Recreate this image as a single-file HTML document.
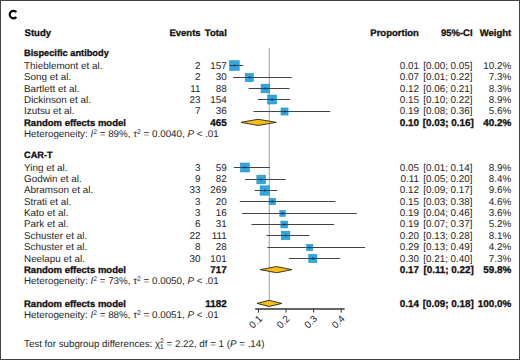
<!DOCTYPE html>
<html><head><meta charset="utf-8"><style>
html,body{margin:0;padding:0;background:#fff;}
body{width:520px;height:360px;overflow:hidden;position:relative;}
svg{position:absolute;left:0;top:0;font-family:"Liberation Sans",sans-serif;text-rendering:geometricPrecision;}
.ci{stroke:#444;stroke-width:1;}
.ci2{stroke:#0f4470;stroke-width:1;}
.sq{fill:#31a8dc;stroke:#1d8fc4;stroke-width:0.6;}
.pt{fill:#0b2f55;}
.dm{fill:#f6bd12;stroke:#2a2620;stroke-width:0.9;stroke-linejoin:miter;}
.frame{position:absolute;left:0;top:0;width:518px;height:358px;border:1px solid #444;}
</style></head><body>
<svg width="520" height="360" viewBox="0 0 520 360">
<line x1="269.3" y1="48" x2="269.3" y2="300.5" stroke="#a8a8a8" stroke-width="1.1"/>
<line x1="231.34" y1="65.50" x2="243.42" y2="65.50" class="ci"/>
<rect x="229.64" y="60.71" width="9.58" height="9.58" class="sq"/>
<line x1="229.64" y1="65.50" x2="239.22" y2="65.50" class="ci2"/>
<circle cx="234.43" cy="65.50" r="1.05" class="pt"/>
<line x1="233.19" y1="77.50" x2="291.78" y2="77.50" class="ci"/>
<rect x="245.27" y="73.45" width="8.11" height="8.11" class="sq"/>
<line x1="245.27" y1="77.50" x2="253.37" y2="77.50" class="ci2"/>
<circle cx="249.32" cy="77.50" r="1.05" class="pt"/>
<line x1="248.60" y1="88.50" x2="289.57" y2="88.50" class="ci"/>
<rect x="261.07" y="84.18" width="8.64" height="8.64" class="sq"/>
<line x1="261.07" y1="88.50" x2="269.71" y2="88.50" class="ci2"/>
<circle cx="265.39" cy="88.50" r="1.05" class="pt"/>
<line x1="257.70" y1="99.50" x2="290.37" y2="99.50" class="ci"/>
<rect x="267.64" y="95.03" width="8.95" height="8.95" class="sq"/>
<line x1="267.64" y1="99.50" x2="276.59" y2="99.50" class="ci2"/>
<circle cx="272.12" cy="99.50" r="1.05" class="pt"/>
<line x1="253.51" y1="111.50" x2="330.24" y2="111.50" class="ci"/>
<rect x="280.98" y="107.95" width="7.10" height="7.10" class="sq"/>
<line x1="280.98" y1="111.50" x2="288.08" y2="111.50" class="ci2"/>
<circle cx="284.53" cy="111.50" r="1.05" class="pt"/>
<polygon points="240.99,122.35 258.09,119.25 276.31,122.35 258.09,125.45" class="dm"/>
<line x1="233.85" y1="167.50" x2="269.94" y2="167.50" class="ci"/>
<rect x="240.46" y="163.03" width="8.95" height="8.95" class="sq"/>
<line x1="240.46" y1="167.50" x2="249.41" y2="167.50" class="ci2"/>
<circle cx="244.94" cy="167.50" r="1.05" class="pt"/>
<line x1="245.10" y1="179.50" x2="285.57" y2="179.50" class="ci"/>
<rect x="256.85" y="175.15" width="8.69" height="8.69" class="sq"/>
<line x1="256.85" y1="179.50" x2="265.55" y2="179.50" class="ci2"/>
<circle cx="261.20" cy="179.50" r="1.05" class="pt"/>
<line x1="254.64" y1="190.50" x2="277.25" y2="190.50" class="ci"/>
<rect x="260.11" y="185.85" width="9.30" height="9.30" class="sq"/>
<line x1="260.11" y1="190.50" x2="269.41" y2="190.50" class="ci2"/>
<circle cx="264.76" cy="190.50" r="1.05" class="pt"/>
<line x1="239.78" y1="201.50" x2="335.39" y2="201.50" class="ci"/>
<rect x="269.07" y="198.28" width="6.43" height="6.43" class="sq"/>
<line x1="269.07" y1="201.50" x2="275.50" y2="201.50" class="ci2"/>
<circle cx="272.29" cy="201.50" r="1.05" class="pt"/>
<line x1="242.10" y1="213.50" x2="356.79" y2="213.50" class="ci"/>
<rect x="279.78" y="210.65" width="5.69" height="5.69" class="sq"/>
<line x1="279.78" y1="213.50" x2="285.47" y2="213.50" class="ci2"/>
<circle cx="282.62" cy="213.50" r="1.05" class="pt"/>
<line x1="251.47" y1="224.50" x2="334.23" y2="224.50" class="ci"/>
<rect x="280.86" y="221.08" width="6.84" height="6.84" class="sq"/>
<line x1="280.86" y1="224.50" x2="287.70" y2="224.50" class="ci2"/>
<circle cx="284.28" cy="224.50" r="1.05" class="pt"/>
<line x1="266.39" y1="235.50" x2="309.39" y2="235.50" class="ci"/>
<rect x="281.30" y="231.23" width="8.54" height="8.54" class="sq"/>
<line x1="281.30" y1="235.50" x2="289.84" y2="235.50" class="ci2"/>
<circle cx="285.57" cy="235.50" r="1.05" class="pt"/>
<line x1="267.38" y1="247.50" x2="365.11" y2="247.50" class="ci"/>
<rect x="306.62" y="244.43" width="6.15" height="6.15" class="sq"/>
<line x1="306.62" y1="247.50" x2="312.77" y2="247.50" class="ci2"/>
<circle cx="309.70" cy="247.50" r="1.05" class="pt"/>
<line x1="288.88" y1="258.50" x2="340.13" y2="258.50" class="ci"/>
<rect x="308.76" y="254.45" width="8.11" height="8.11" class="sq"/>
<line x1="308.76" y1="258.50" x2="316.87" y2="258.50" class="ci2"/>
<circle cx="312.81" cy="258.50" r="1.05" class="pt"/>
<polygon points="260.29,269.65 276.59,266.55 292.00,269.65 276.59,272.75" class="dm"/>
<polygon points="256.98,303.40 269.11,300.30 281.88,303.40 269.11,306.50" class="dm"/>
<line x1="255.2" y1="309.0" x2="344.6" y2="309.0" stroke="#333" stroke-width="1.4"/>
<line x1="258.50" y1="309.0" x2="258.50" y2="312.5" stroke="#333" stroke-width="1"/>
<text x="0" y="0" text-anchor="end" font-size="9.9" fill="#262626" transform="translate(262.80,319.3) rotate(-45)">0.1</text>
<line x1="286.07" y1="309.0" x2="286.07" y2="312.5" stroke="#333" stroke-width="1"/>
<text x="0" y="0" text-anchor="end" font-size="9.9" fill="#262626" transform="translate(290.37,319.3) rotate(-45)">0.2</text>
<line x1="313.64" y1="309.0" x2="313.64" y2="312.5" stroke="#333" stroke-width="1"/>
<text x="0" y="0" text-anchor="end" font-size="9.9" fill="#262626" transform="translate(317.94,319.3) rotate(-45)">0.3</text>
<line x1="341.21" y1="309.0" x2="341.21" y2="312.5" stroke="#333" stroke-width="1"/>
<text x="0" y="0" text-anchor="end" font-size="9.9" fill="#262626" transform="translate(345.51,319.3) rotate(-45)">0.4</text>
<path d="M16.32,12.19 A3.75,3.75 0 1 0 16.32,17.01" fill="none" stroke="#000" stroke-width="2.1"/>
<text x="24.60" y="35.65" text-anchor="start" font-size="9.5" fill="#111" stroke="#111" stroke-width="0.3" font-weight="bold">Study</text>
<text x="200.60" y="35.65" text-anchor="end" font-size="9.5" fill="#111" stroke="#111" stroke-width="0.3" font-weight="bold">Events</text>
<text x="226.80" y="35.65" text-anchor="end" font-size="9.5" fill="#111" stroke="#111" stroke-width="0.3" font-weight="bold">Total</text>
<text x="418.90" y="35.65" text-anchor="end" font-size="9.5" fill="#111" stroke="#111" stroke-width="0.3" font-weight="bold">Proportion</text>
<text x="472.60" y="35.65" text-anchor="end" font-size="9.5" fill="#111" stroke="#111" stroke-width="0.3" font-weight="bold">95%-CI</text>
<text x="511.20" y="35.65" text-anchor="end" font-size="9.5" fill="#111" stroke="#111" stroke-width="0.3" font-weight="bold">Weight</text>
<text x="24.00" y="56.10" text-anchor="start" font-size="9.25" fill="#111" stroke="#111" stroke-width="0.3" font-weight="bold">Bispecific antibody</text>
<text x="24.00" y="68.80" text-anchor="start" font-size="9.9" fill="#262626" stroke="#262626" stroke-width="0.0">Thieblemont et al.</text>
<text x="200.60" y="68.80" text-anchor="end" font-size="9.9" fill="#262626" stroke="#262626" stroke-width="0.0">2</text>
<text x="226.80" y="68.80" text-anchor="end" font-size="9.9" fill="#262626" stroke="#262626" stroke-width="0.0">157</text>
<text x="418.90" y="68.80" text-anchor="end" font-size="9.9" fill="#262626" stroke="#262626" stroke-width="0.0">0.01</text>
<text x="472.60" y="68.80" text-anchor="end" font-size="9.9" fill="#262626" stroke="#262626" stroke-width="0.0">[0.00; 0.05]</text>
<text x="511.20" y="68.80" text-anchor="end" font-size="9.9" fill="#262626" stroke="#262626" stroke-width="0.0">10.2%</text>
<text x="24.00" y="80.15" text-anchor="start" font-size="9.9" fill="#262626" stroke="#262626" stroke-width="0.0">Song et al.</text>
<text x="200.60" y="80.15" text-anchor="end" font-size="9.9" fill="#262626" stroke="#262626" stroke-width="0.0">2</text>
<text x="226.80" y="80.15" text-anchor="end" font-size="9.9" fill="#262626" stroke="#262626" stroke-width="0.0">30</text>
<text x="418.90" y="80.15" text-anchor="end" font-size="9.9" fill="#262626" stroke="#262626" stroke-width="0.0">0.07</text>
<text x="472.60" y="80.15" text-anchor="end" font-size="9.9" fill="#262626" stroke="#262626" stroke-width="0.0">[0.01; 0.22]</text>
<text x="511.20" y="80.15" text-anchor="end" font-size="9.9" fill="#262626" stroke="#262626" stroke-width="0.0">7.3%</text>
<text x="24.00" y="91.50" text-anchor="start" font-size="9.9" fill="#262626" stroke="#262626" stroke-width="0.0">Bartlett et al.</text>
<text x="200.60" y="91.50" text-anchor="end" font-size="9.9" fill="#262626" stroke="#262626" stroke-width="0.0">11</text>
<text x="226.80" y="91.50" text-anchor="end" font-size="9.9" fill="#262626" stroke="#262626" stroke-width="0.0">88</text>
<text x="418.90" y="91.50" text-anchor="end" font-size="9.9" fill="#262626" stroke="#262626" stroke-width="0.0">0.12</text>
<text x="472.60" y="91.50" text-anchor="end" font-size="9.9" fill="#262626" stroke="#262626" stroke-width="0.0">[0.06; 0.21]</text>
<text x="511.20" y="91.50" text-anchor="end" font-size="9.9" fill="#262626" stroke="#262626" stroke-width="0.0">8.3%</text>
<text x="24.00" y="102.85" text-anchor="start" font-size="9.9" fill="#262626" stroke="#262626" stroke-width="0.0">Dickinson et al.</text>
<text x="200.60" y="102.85" text-anchor="end" font-size="9.9" fill="#262626" stroke="#262626" stroke-width="0.0">23</text>
<text x="226.80" y="102.85" text-anchor="end" font-size="9.9" fill="#262626" stroke="#262626" stroke-width="0.0">154</text>
<text x="418.90" y="102.85" text-anchor="end" font-size="9.9" fill="#262626" stroke="#262626" stroke-width="0.0">0.15</text>
<text x="472.60" y="102.85" text-anchor="end" font-size="9.9" fill="#262626" stroke="#262626" stroke-width="0.0">[0.10; 0.22]</text>
<text x="511.20" y="102.85" text-anchor="end" font-size="9.9" fill="#262626" stroke="#262626" stroke-width="0.0">8.9%</text>
<text x="24.00" y="114.20" text-anchor="start" font-size="9.9" fill="#262626" stroke="#262626" stroke-width="0.0">Izutsu et al.</text>
<text x="200.60" y="114.20" text-anchor="end" font-size="9.9" fill="#262626" stroke="#262626" stroke-width="0.0">7</text>
<text x="226.80" y="114.20" text-anchor="end" font-size="9.9" fill="#262626" stroke="#262626" stroke-width="0.0">36</text>
<text x="418.90" y="114.20" text-anchor="end" font-size="9.9" fill="#262626" stroke="#262626" stroke-width="0.0">0.19</text>
<text x="472.60" y="114.20" text-anchor="end" font-size="9.9" fill="#262626" stroke="#262626" stroke-width="0.0">[0.08; 0.36]</text>
<text x="511.20" y="114.20" text-anchor="end" font-size="9.9" fill="#262626" stroke="#262626" stroke-width="0.0">5.6%</text>
<text x="24.00" y="125.55" text-anchor="start" font-size="9.5" fill="#111" stroke="#111" stroke-width="0.3" font-weight="bold">Random effects model</text>
<text x="226.80" y="125.55" text-anchor="end" font-size="9.9" fill="#111" stroke="#111" stroke-width="0.3" font-weight="bold">465</text>
<text x="418.90" y="125.55" text-anchor="end" font-size="9.9" fill="#111" stroke="#111" stroke-width="0.3" font-weight="bold">0.10</text>
<text x="473.90" y="125.55" text-anchor="end" font-size="9.9" fill="#111" stroke="#111" stroke-width="0.3" font-weight="bold">[0.03; 0.16]</text>
<text x="511.20" y="125.55" text-anchor="end" font-size="9.9" fill="#111" stroke="#111" stroke-width="0.3" font-weight="bold">40.2%</text>
<text x="24.00" y="136.90" text-anchor="start" font-size="9.8" fill="#262626" stroke="#262626" stroke-width="0.0">Heterogeneity: <tspan font-style="italic">I</tspan><tspan dy="-3.2" font-size="6.8">2</tspan><tspan dy="3.2"> = 89%, τ</tspan><tspan dy="-3.2" font-size="6.8">2</tspan><tspan dy="3.2"> = 0.0040, </tspan><tspan font-style="italic">P</tspan> &lt; .01</text>
<text x="24.00" y="157.60" text-anchor="start" font-size="9.2" fill="#111" stroke="#111" stroke-width="0.3" font-weight="bold">CAR-T</text>
<text x="24.00" y="170.70" text-anchor="start" font-size="9.9" fill="#262626" stroke="#262626" stroke-width="0.0">Ying et al.</text>
<text x="200.60" y="170.70" text-anchor="end" font-size="9.9" fill="#262626" stroke="#262626" stroke-width="0.0">3</text>
<text x="226.80" y="170.70" text-anchor="end" font-size="9.9" fill="#262626" stroke="#262626" stroke-width="0.0">59</text>
<text x="418.90" y="170.70" text-anchor="end" font-size="9.9" fill="#262626" stroke="#262626" stroke-width="0.0">0.05</text>
<text x="472.60" y="170.70" text-anchor="end" font-size="9.9" fill="#262626" stroke="#262626" stroke-width="0.0">[0.01; 0.14]</text>
<text x="511.20" y="170.70" text-anchor="end" font-size="9.9" fill="#262626" stroke="#262626" stroke-width="0.0">8.9%</text>
<text x="24.00" y="182.05" text-anchor="start" font-size="9.9" fill="#262626" stroke="#262626" stroke-width="0.0">Godwin et al.</text>
<text x="200.60" y="182.05" text-anchor="end" font-size="9.9" fill="#262626" stroke="#262626" stroke-width="0.0">9</text>
<text x="226.80" y="182.05" text-anchor="end" font-size="9.9" fill="#262626" stroke="#262626" stroke-width="0.0">82</text>
<text x="418.90" y="182.05" text-anchor="end" font-size="9.9" fill="#262626" stroke="#262626" stroke-width="0.0">0.11</text>
<text x="472.60" y="182.05" text-anchor="end" font-size="9.9" fill="#262626" stroke="#262626" stroke-width="0.0">[0.05; 0.20]</text>
<text x="511.20" y="182.05" text-anchor="end" font-size="9.9" fill="#262626" stroke="#262626" stroke-width="0.0">8.4%</text>
<text x="24.00" y="193.40" text-anchor="start" font-size="9.9" fill="#262626" stroke="#262626" stroke-width="0.0">Abramson et al.</text>
<text x="200.60" y="193.40" text-anchor="end" font-size="9.9" fill="#262626" stroke="#262626" stroke-width="0.0">33</text>
<text x="226.80" y="193.40" text-anchor="end" font-size="9.9" fill="#262626" stroke="#262626" stroke-width="0.0">269</text>
<text x="418.90" y="193.40" text-anchor="end" font-size="9.9" fill="#262626" stroke="#262626" stroke-width="0.0">0.12</text>
<text x="472.60" y="193.40" text-anchor="end" font-size="9.9" fill="#262626" stroke="#262626" stroke-width="0.0">[0.09; 0.17]</text>
<text x="511.20" y="193.40" text-anchor="end" font-size="9.9" fill="#262626" stroke="#262626" stroke-width="0.0">9.6%</text>
<text x="24.00" y="204.75" text-anchor="start" font-size="9.9" fill="#262626" stroke="#262626" stroke-width="0.0">Strati et al.</text>
<text x="200.60" y="204.75" text-anchor="end" font-size="9.9" fill="#262626" stroke="#262626" stroke-width="0.0">3</text>
<text x="226.80" y="204.75" text-anchor="end" font-size="9.9" fill="#262626" stroke="#262626" stroke-width="0.0">20</text>
<text x="418.90" y="204.75" text-anchor="end" font-size="9.9" fill="#262626" stroke="#262626" stroke-width="0.0">0.15</text>
<text x="472.60" y="204.75" text-anchor="end" font-size="9.9" fill="#262626" stroke="#262626" stroke-width="0.0">[0.03; 0.38]</text>
<text x="511.20" y="204.75" text-anchor="end" font-size="9.9" fill="#262626" stroke="#262626" stroke-width="0.0">4.6%</text>
<text x="24.00" y="216.10" text-anchor="start" font-size="9.9" fill="#262626" stroke="#262626" stroke-width="0.0">Kato et al.</text>
<text x="200.60" y="216.10" text-anchor="end" font-size="9.9" fill="#262626" stroke="#262626" stroke-width="0.0">3</text>
<text x="226.80" y="216.10" text-anchor="end" font-size="9.9" fill="#262626" stroke="#262626" stroke-width="0.0">16</text>
<text x="418.90" y="216.10" text-anchor="end" font-size="9.9" fill="#262626" stroke="#262626" stroke-width="0.0">0.19</text>
<text x="472.60" y="216.10" text-anchor="end" font-size="9.9" fill="#262626" stroke="#262626" stroke-width="0.0">[0.04; 0.46]</text>
<text x="511.20" y="216.10" text-anchor="end" font-size="9.9" fill="#262626" stroke="#262626" stroke-width="0.0">3.6%</text>
<text x="24.00" y="227.45" text-anchor="start" font-size="9.9" fill="#262626" stroke="#262626" stroke-width="0.0">Park et al.</text>
<text x="200.60" y="227.45" text-anchor="end" font-size="9.9" fill="#262626" stroke="#262626" stroke-width="0.0">6</text>
<text x="226.80" y="227.45" text-anchor="end" font-size="9.9" fill="#262626" stroke="#262626" stroke-width="0.0">31</text>
<text x="418.90" y="227.45" text-anchor="end" font-size="9.9" fill="#262626" stroke="#262626" stroke-width="0.0">0.19</text>
<text x="472.60" y="227.45" text-anchor="end" font-size="9.9" fill="#262626" stroke="#262626" stroke-width="0.0">[0.07; 0.37]</text>
<text x="511.20" y="227.45" text-anchor="end" font-size="9.9" fill="#262626" stroke="#262626" stroke-width="0.0">5.2%</text>
<text x="24.00" y="238.80" text-anchor="start" font-size="9.9" fill="#262626" stroke="#262626" stroke-width="0.0">Schuster et al.</text>
<text x="200.60" y="238.80" text-anchor="end" font-size="9.9" fill="#262626" stroke="#262626" stroke-width="0.0">22</text>
<text x="226.80" y="238.80" text-anchor="end" font-size="9.9" fill="#262626" stroke="#262626" stroke-width="0.0">111</text>
<text x="418.90" y="238.80" text-anchor="end" font-size="9.9" fill="#262626" stroke="#262626" stroke-width="0.0">0.20</text>
<text x="472.60" y="238.80" text-anchor="end" font-size="9.9" fill="#262626" stroke="#262626" stroke-width="0.0">[0.13; 0.28]</text>
<text x="511.20" y="238.80" text-anchor="end" font-size="9.9" fill="#262626" stroke="#262626" stroke-width="0.0">8.1%</text>
<text x="24.00" y="250.15" text-anchor="start" font-size="9.9" fill="#262626" stroke="#262626" stroke-width="0.0">Schuster et al.</text>
<text x="200.60" y="250.15" text-anchor="end" font-size="9.9" fill="#262626" stroke="#262626" stroke-width="0.0">8</text>
<text x="226.80" y="250.15" text-anchor="end" font-size="9.9" fill="#262626" stroke="#262626" stroke-width="0.0">28</text>
<text x="418.90" y="250.15" text-anchor="end" font-size="9.9" fill="#262626" stroke="#262626" stroke-width="0.0">0.29</text>
<text x="472.60" y="250.15" text-anchor="end" font-size="9.9" fill="#262626" stroke="#262626" stroke-width="0.0">[0.13; 0.49]</text>
<text x="511.20" y="250.15" text-anchor="end" font-size="9.9" fill="#262626" stroke="#262626" stroke-width="0.0">4.2%</text>
<text x="24.00" y="261.50" text-anchor="start" font-size="9.9" fill="#262626" stroke="#262626" stroke-width="0.0">Neelapu et al.</text>
<text x="200.60" y="261.50" text-anchor="end" font-size="9.9" fill="#262626" stroke="#262626" stroke-width="0.0">30</text>
<text x="226.80" y="261.50" text-anchor="end" font-size="9.9" fill="#262626" stroke="#262626" stroke-width="0.0">101</text>
<text x="418.90" y="261.50" text-anchor="end" font-size="9.9" fill="#262626" stroke="#262626" stroke-width="0.0">0.30</text>
<text x="472.60" y="261.50" text-anchor="end" font-size="9.9" fill="#262626" stroke="#262626" stroke-width="0.0">[0.21; 0.40]</text>
<text x="511.20" y="261.50" text-anchor="end" font-size="9.9" fill="#262626" stroke="#262626" stroke-width="0.0">7.3%</text>
<text x="24.00" y="272.85" text-anchor="start" font-size="9.5" fill="#111" stroke="#111" stroke-width="0.3" font-weight="bold">Random effects model</text>
<text x="226.80" y="272.85" text-anchor="end" font-size="9.9" fill="#111" stroke="#111" stroke-width="0.3" font-weight="bold">717</text>
<text x="418.90" y="272.85" text-anchor="end" font-size="9.9" fill="#111" stroke="#111" stroke-width="0.3" font-weight="bold">0.17</text>
<text x="473.90" y="272.85" text-anchor="end" font-size="9.9" fill="#111" stroke="#111" stroke-width="0.3" font-weight="bold">[0.11; 0.22]</text>
<text x="511.20" y="272.85" text-anchor="end" font-size="9.9" fill="#111" stroke="#111" stroke-width="0.3" font-weight="bold">59.8%</text>
<text x="24.00" y="284.20" text-anchor="start" font-size="9.8" fill="#262626" stroke="#262626" stroke-width="0.0">Heterogeneity: <tspan font-style="italic">I</tspan><tspan dy="-3.2" font-size="6.8">2</tspan><tspan dy="3.2"> = 73%, τ</tspan><tspan dy="-3.2" font-size="6.8">2</tspan><tspan dy="3.2"> = 0.0050, </tspan><tspan font-style="italic">P</tspan> &lt; .01</text>
<text x="24.00" y="306.60" text-anchor="start" font-size="9.5" fill="#111" stroke="#111" stroke-width="0.3" font-weight="bold">Random effects model</text>
<text x="226.80" y="306.60" text-anchor="end" font-size="9.9" fill="#111" stroke="#111" stroke-width="0.3" font-weight="bold">1182</text>
<text x="418.90" y="306.60" text-anchor="end" font-size="9.9" fill="#111" stroke="#111" stroke-width="0.3" font-weight="bold">0.14</text>
<text x="473.90" y="306.60" text-anchor="end" font-size="9.9" fill="#111" stroke="#111" stroke-width="0.3" font-weight="bold">[0.09; 0.18]</text>
<text x="511.20" y="306.60" text-anchor="end" font-size="9.9" fill="#111" stroke="#111" stroke-width="0.3" font-weight="bold">100.0%</text>
<text x="24.00" y="317.95" text-anchor="start" font-size="9.8" fill="#262626" stroke="#262626" stroke-width="0.0">Heterogeneity: <tspan font-style="italic">I</tspan><tspan dy="-3.2" font-size="6.8">2</tspan><tspan dy="3.2"> = 88%, τ</tspan><tspan dy="-3.2" font-size="6.8">2</tspan><tspan dy="3.2"> = 0.0051, </tspan><tspan font-style="italic">P</tspan> &lt; .01</text>
<text x="24.00" y="346.50" text-anchor="start" font-size="9.75" fill="#262626" stroke="#262626" stroke-width="0.0">Test for subgroup differences: χ<tspan dy="-3.2" font-size="6.8">2</tspan><tspan dx="-3.8" dy="5.2" font-size="6.8">1</tspan><tspan dy="-2"> = 2.22, df = 1 (</tspan><tspan font-style="italic">P</tspan> = .14)</text>
</svg>
<div class="frame"></div>
</body></html>
